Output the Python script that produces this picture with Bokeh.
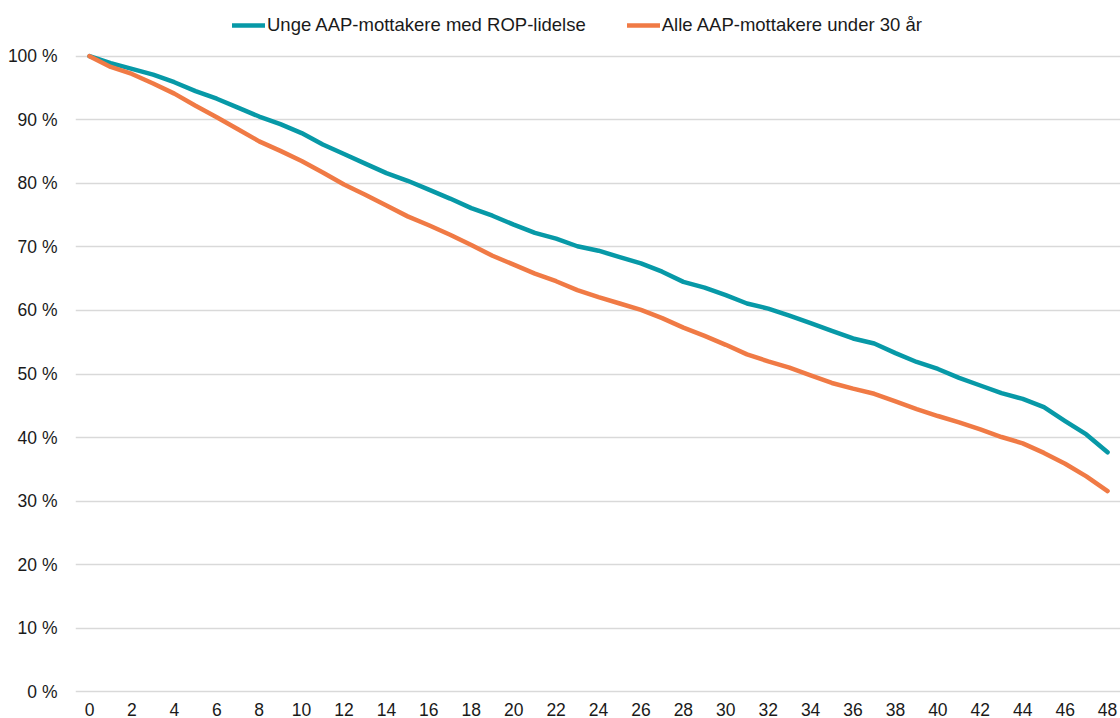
from bokeh.plotting import figure
from bokeh.models import FixedTicker, PrintfTickFormatter, Legend, LegendItem, Range1d
from bokeh.embed import file_html
from bokeh.resources import INLINE

months = list(range(0, 49))

rop_label = "Unge AAP-mottakere med ROP-lidelse"
rop = [100.0, 98.9, 98.0, 97.1, 95.9, 94.5, 93.3, 91.9, 90.5, 89.3,
       87.9, 86.1, 84.6, 83.1, 81.6, 80.4, 79.0, 77.6, 76.1, 74.9,
       73.5, 72.2, 71.3, 70.1, 69.4, 68.4, 67.4, 66.1, 64.5, 63.6,
       62.4, 61.1, 60.3, 59.2, 58.0, 56.8, 55.6, 54.8, 53.3, 51.9,
       50.8, 49.4, 48.2, 47.0, 46.1, 44.8, 42.6, 40.5, 37.7]

all_label = "Alle AAP-mottakere under 30 år"
alle = [100.0, 98.3, 97.2, 95.7, 94.1, 92.2, 90.4, 88.5, 86.6, 85.1,
        83.5, 81.7, 79.8, 78.2, 76.5, 74.8, 73.4, 71.9, 70.3, 68.6,
        67.2, 65.8, 64.6, 63.2, 62.1, 61.1, 60.1, 58.8, 57.3, 56.0,
        54.6, 53.1, 52.0, 51.0, 49.8, 48.6, 47.7, 46.9, 45.7, 44.5,
        43.4, 42.4, 41.3, 40.1, 39.1, 37.6, 35.9, 33.9, 31.6]

y_ticks = list(range(0, 101, 10))
x_ticks = list(range(0, 49, 2))

TEAL = "#0799A7"
ORANGE = "#F07A45"
FONT = "Liberation Sans"

p = figure(width=1120, height=718, output_backend="svg", toolbar_location=None,
           x_range=Range1d(-0.66, 48.61), y_range=Range1d(-0.71, 108.75),
           min_border_left=75, min_border_right=0, min_border_top=0, min_border_bottom=21)
p.outline_line_color = None
p.background_fill_color = "white"

p.xgrid.grid_line_color = None
p.ygrid.grid_line_color = "#D9D9D9"
p.ygrid.grid_line_width = 1.5

for ax in (p.xaxis[0], p.yaxis[0]):
    ax.axis_line_color = None
    ax.major_tick_line_color = None
    ax.minor_tick_line_color = None
    ax.major_label_text_font = FONT
    ax.major_label_text_font_size = "17.5px"
    ax.major_label_text_color = "#1a1a1a"

p.yaxis.ticker = FixedTicker(ticks=y_ticks)
p.yaxis.formatter = PrintfTickFormatter(format="%d %%")
p.yaxis.major_label_standoff = 12
p.xaxis.ticker = FixedTicker(ticks=x_ticks)
p.xaxis.major_label_standoff = 0

r1 = p.line(months, rop, line_color=TEAL, line_width=4.5, line_join="round", line_cap="round")
r2 = p.line(months, alle, line_color=ORANGE, line_width=4.5, line_join="round", line_cap="round")

legend = Legend(items=[LegendItem(label=rop_label, renderers=[r1]),
                       LegendItem(label=all_label, renderers=[r2])],
                orientation="horizontal", location=(157, 660),
                label_text_font=FONT, label_text_font_size="18.5px", label_text_color="#1a1a1a",
                glyph_width=33, glyph_height=20, label_standoff=2, spacing=41,
                padding=0, margin=0, border_line_color=None, background_fill_alpha=0)
p.add_layout(legend, "center")

open("out.html", "w").write(file_html(p, INLINE))
